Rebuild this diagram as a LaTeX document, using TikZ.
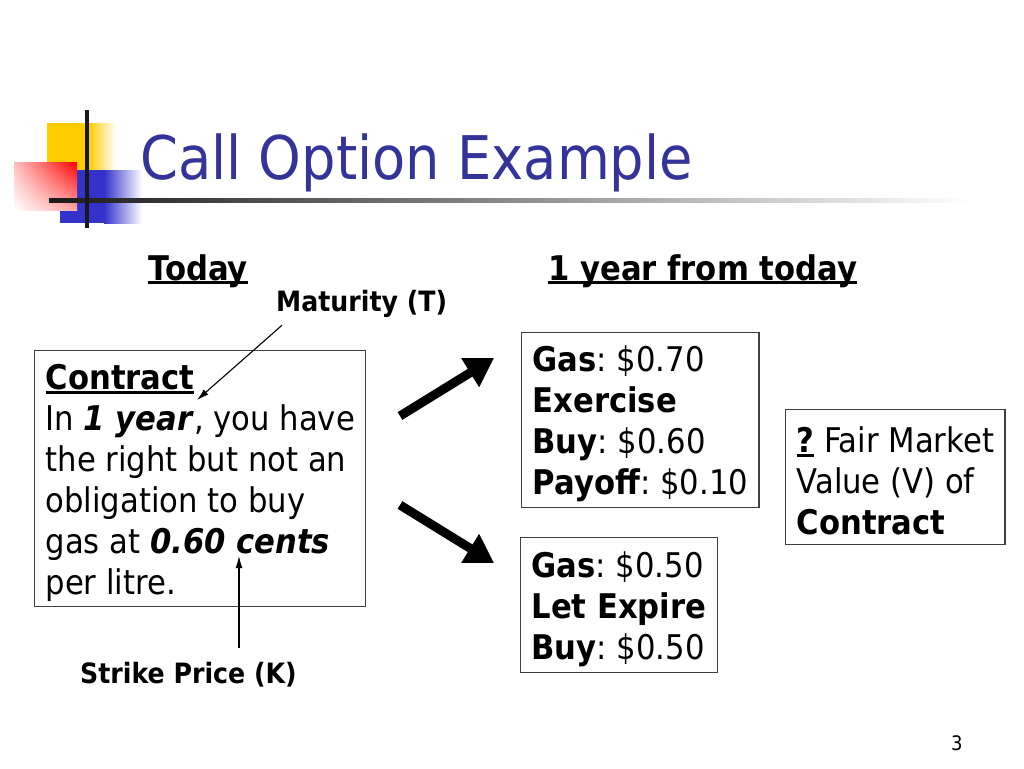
\documentclass[tikz,border=0pt]{standalone}
\usepackage{fontspec}
\setmainfont{DejaVu Sans}[FakeStretch=0.902]
\usetikzlibrary{arrows.meta,shadings}
\definecolor{titleblue}{HTML}{333399}
\definecolor{logoyellow}{HTML}{FFCC00}
\definecolor{logoblue}{HTML}{3333CC}
\newcommand\undl[1]{\setbox0=\hbox{#1}\rlap{\rule[-4pt]{\wd0}{2.6pt}}\box0\relax}
\newcommand\topgap{\rule{0pt}{34pt}}
\frenchspacing
\begin{document}
\begin{tikzpicture}[x=1pt,y=-1pt,
  box/.style={draw=black!75,line width=1.2pt,anchor=north west,align=left,inner xsep=11pt,inner ysep=0pt,font=\fontsize{34}{41}\selectfont},
  head/.style={anchor=base west,inner sep=0pt,font=\bfseries\fontsize{34}{41}\selectfont},
  small label/.style={anchor=base west,inner xsep=0pt,font=\bfseries\fontsize{28}{32}\selectfont},
  thin arrow/.style={line width=1.1pt,-{Latex[length=12pt,width=7pt]}},
  big arrow/.style={line width=9pt,-{Triangle[length=28pt,width=32pt]}}]

  \useasboundingbox (0,0) rectangle (1024,768);

  \fill[logoyellow] (47,123) rectangle (88,170);
  \shade[left color=logoyellow,right color=white] (88,123) rectangle (116,170);
  \fill[logoblue] (60,170) rectangle (104,223);
  \shade[left color=logoblue,right color=white] (104,170) rectangle (142,223);
  \shade[upper left=red!25,upper right=red,lower left=white,lower right=red!35] (14,162) rectangle (77,210);
  \shade[left color=black!90,middle color=black!45,right color=white] (49,198) rectangle (970,202);
  \fill[black!90] (85,110) rectangle (89,228);

  \node[anchor=base west,inner sep=0pt,text=titleblue,font=\fontsize{60.2}{68}\selectfont] (title) at (140,179) {Call Option Example};

  \node[head] (today) at (148,280) {\undl{Today}};
  \node[head] (later) at (548,280) {\undl{1 year from today}};

  \node[box,minimum height=256pt] (contract) at (34,350)
    {\topgap\undl{\textbf{Contract}}\\
     In \textbf{\textit{1 year}}, you have\\
     the right but not an\\
     obligation to buy\\
     gas at \textbf{\textit{0.60 cents}}\\
     per litre.};

  \node[box,minimum height=175pt] (exercise) at (521,332)
    {\topgap\textbf{Gas}: \$0.70\\ \textbf{Exercise}\\ \textbf{Buy}: \$0.60\\ \textbf{Payoff}: \$0.10};
  \node[box,minimum height=135pt] (expire) at (520,537)
    {\topgap\textbf{Gas}: \$0.50\\ \textbf{Let Expire}\\ \textbf{Buy}: \$0.50};
  \node[box,minimum height=135pt] (value) at (785,409)
    {\topgap\undl{\textbf{?}} Fair Market\\ Value (V) of\\ \textbf{Contract}};

  \node[small label,inner ysep=8pt] (maturity) at (276,311) {Maturity (T)};
  \node[small label,inner ysep=14pt] (strike) at (80,683) {Strike Price (K)};
  \node[anchor=base west,inner sep=0pt,font=\fontsize{20}{24}\selectfont] (page) at (951,750) {3};

  \coordinate (T) at (197,400);
  \coordinate (K) at (239,556);
  \coordinate (up1) at (400,416);
  \coordinate (up2) at (494,358);
  \coordinate (dn1) at (400,505);
  \coordinate (dn2) at (494,563);

  \draw[thin arrow] ([xshift=6pt]maturity.south west) -- (T);
  \draw[thin arrow] (K |- strike.north) -- (K);
  \draw[big arrow] (up1) -- (up2);
  \draw[big arrow] (dn1) -- (dn2);
\end{tikzpicture}
\end{document}
